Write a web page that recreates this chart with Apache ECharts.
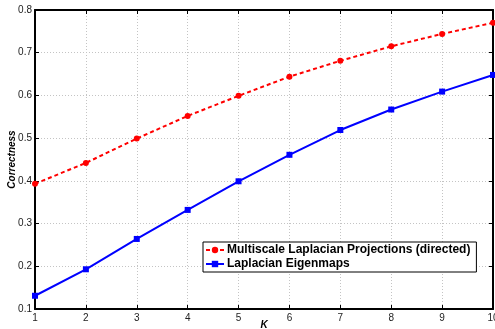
<!DOCTYPE html>
<html>
<head>
<meta charset="utf-8">
<script src="https://cdn.jsdelivr.net/npm/echarts@6/dist/echarts.min.js"></script>
<style>html,body{margin:0;padding:0;background:#fff}#c{width:495px;height:329px}</style>
</head>
<body>
<div id="c"></div>
<script>
var kValues = [1, 2, 3, 4, 5, 6, 7, 8, 9, 10];
var multiscale = [0.393, 0.442, 0.499, 0.552, 0.599, 0.644, 0.681, 0.715, 0.744, 0.770];
var eigenmaps = [0.131, 0.193, 0.264, 0.332, 0.399, 0.461, 0.519, 0.567, 0.609, 0.648];
var seriesNames = ['Multiscale Laplacian Projections (directed)', 'Laplacian Eigenmaps'];

var chart = echarts.init(document.getElementById('c'));
var font = 'Liberation Sans, Arial, sans-serif';
function pairs(arr){ return arr.map(function(v,i){ return [kValues[i], v]; }); }
var gridLine = {show:true, lineStyle:{color:'#c4c4c4', type:[1,2], width:1}};
chart.setOption({
  animation:false,
  grid:{left:35, right:2, top:10, bottom:20, containLabel:false, outerBoundsMode:'none'},
  legend:{
    left:203, top:242, orient:'vertical',
    backgroundColor:'#fff', borderColor:'#000', borderWidth:1,
    padding:[2,6,2,2], itemGap:2, itemWidth:18, itemHeight:8,
    textStyle:{fontFamily:font, fontWeight:'bold', fontSize:12, color:'#000', padding:[0,0,0,-2]},
    data:seriesNames
  },
  xAxis:[{
    type:'value', min:1, max:10, interval:1,
    name:'K', nameLocation:'middle', nameGap:11, nameMoveOverlap:false,
    nameTextStyle:{fontFamily:font, fontWeight:'bold', fontStyle:'italic', fontSize:10, color:'#000'},
    axisLine:{lineStyle:{color:'#000', width:2}},
    axisTick:{inside:true, length:4, lineStyle:{color:'#000'}},
    axisLabel:{fontFamily:font, fontSize:10, color:'#222', margin:4, showMinLabel:true, showMaxLabel:true},
    splitLine:gridLine
  },{
    type:'value', position:'top', min:1, max:10, interval:1,
    axisLine:{show:true, onZero:false, lineStyle:{color:'#000', width:2}},
    axisTick:{show:true, inside:true, length:4, lineStyle:{color:'#000'}},
    axisLabel:{show:false}, splitLine:{show:false}
  }],
  yAxis:[{
    type:'value', min:0.1, max:0.8, interval:0.1,
    name:'Correctness', nameLocation:'middle', nameGap:18, nameRotate:90, nameMoveOverlap:false,
    nameTextStyle:{fontFamily:font, fontWeight:'bold', fontStyle:'italic', fontSize:10, color:'#000'},
    axisLine:{show:true, lineStyle:{color:'#000', width:2}},
    axisTick:{show:true, inside:true, length:4, lineStyle:{color:'#000'}},
    axisLabel:{fontFamily:font, fontSize:10, color:'#222', margin:3,
      formatter:function(v){ return (Math.round(v*10)/10).toString(); }},
    splitLine:gridLine
  },{
    type:'value', position:'right', min:0.1, max:0.8, interval:0.1,
    axisLine:{show:true, onZero:false, lineStyle:{color:'#000', width:2}},
    axisTick:{show:true, inside:true, length:4, lineStyle:{color:'#000'}},
    axisLabel:{show:false}, splitLine:{show:false}
  }],
  series:[{
    name:seriesNames[0], type:'line', data:pairs(multiscale),
    symbol:'circle', symbolSize:6,
    lineStyle:{color:'#ff0000', width:2, type:[4,3]},
    itemStyle:{color:'#ff0000'}, z:3
  },{
    name:seriesNames[1], type:'line', data:pairs(eigenmaps),
    symbol:'rect', symbolSize:6,
    lineStyle:{color:'#0000ff', width:2},
    itemStyle:{color:'#0000ff'}, z:3
  }]
});
</script>
</body>
</html>
